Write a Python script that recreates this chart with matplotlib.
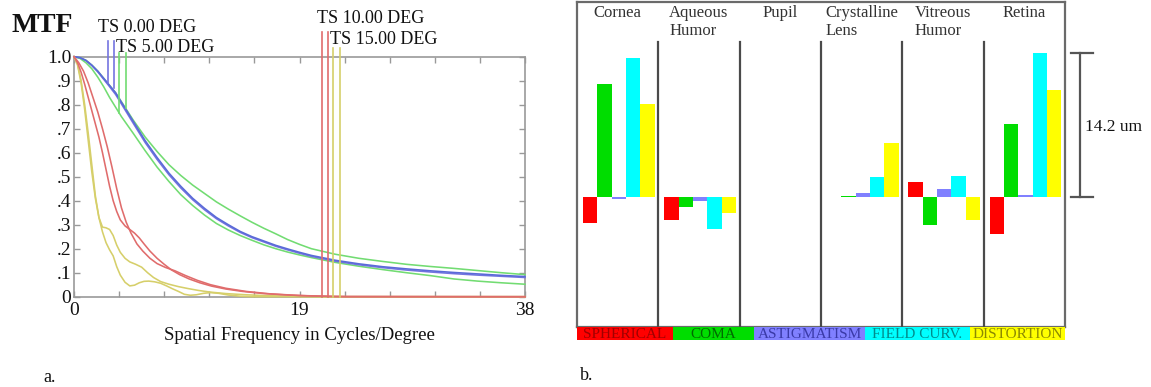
import matplotlib
matplotlib.use('Agg')
import matplotlib.pyplot as plt
import numpy as np

# ---------------- data: panel a (MTF curves) ----------------
freq_blue = [0, 0.5, 1, 1.5, 2, 2.5, 3, 3.5, 4, 5, 6, 7, 8, 9, 10, 11, 12, 13, 14, 15, 16, 17, 18, 19, 20,
             22, 24, 26, 28, 30, 32, 34, 36, 38]
mtf_blue_t = [1, 0.996, 0.985, 0.965, 0.94, 0.91, 0.88, 0.85, 0.81, 0.73, 0.65, 0.58, 0.515, 0.46, 0.41,
              0.368, 0.33, 0.30, 0.272, 0.25, 0.232, 0.214, 0.199, 0.185, 0.172, 0.152, 0.137, 0.125,
              0.116, 0.108, 0.101, 0.095, 0.089, 0.084]
mtf_blue_s = [1, 0.996, 0.984, 0.963, 0.937, 0.906, 0.875, 0.843, 0.803, 0.722, 0.642, 0.572, 0.508, 0.453,
              0.404, 0.362, 0.325, 0.295, 0.268, 0.246, 0.228, 0.21, 0.195, 0.181, 0.168, 0.148, 0.133,
              0.121, 0.111, 0.103, 0.096, 0.09, 0.085, 0.08]
mtf_green_t = [1, 0.996, 0.985, 0.965, 0.94, 0.91, 0.88, 0.85, 0.812, 0.735, 0.665, 0.605, 0.55, 0.505,
               0.465, 0.43, 0.395, 0.365, 0.337, 0.31, 0.285, 0.262, 0.238, 0.218, 0.2, 0.177, 0.16,
               0.147, 0.135, 0.126, 0.118, 0.109, 0.1, 0.092]
mtf_green_s = [1, 0.993, 0.975, 0.95, 0.915, 0.875, 0.83, 0.79, 0.75, 0.68, 0.608, 0.54, 0.48, 0.425, 0.38,
               0.34, 0.305, 0.278, 0.255, 0.235, 0.216, 0.2, 0.186, 0.174, 0.163, 0.143, 0.127, 0.113,
               0.1, 0.088, 0.074, 0.065, 0.058, 0.052]

freq_red_1 = [0, 0.3, 0.6, 0.9, 1.2, 1.5, 1.8, 2.1, 2.4, 2.7, 3.0, 3.3, 3.6, 3.9, 4.3, 4.7, 5.1, 5.5, 5.9,
              6.4, 7.0, 7.6, 8.2, 8.9, 9.7, 10.6, 11.6, 12.8, 14.2, 16, 18, 20, 23, 38]
mtf_red_1 = [1, 0.975, 0.935, 0.885, 0.83, 0.775, 0.72, 0.665, 0.6, 0.53, 0.46, 0.4, 0.355, 0.32, 0.295,
             0.28, 0.265, 0.245, 0.22, 0.19, 0.16, 0.135, 0.112, 0.092, 0.074, 0.058, 0.044, 0.032,
             0.022, 0.013, 0.007, 0.003, 0.0, 0.0]
freq_red_2 = [0, 0.4, 0.8, 1.2, 1.6, 2.0, 2.4, 2.8, 3.2, 3.6, 4.0, 4.4, 4.8, 5.3, 5.8, 6.4, 7.0, 7.7, 8.5,
              9.4, 10.4, 11.5, 12.8, 14.5, 16.5, 19, 22, 38]
mtf_red_2 = [1, 0.975, 0.94, 0.89, 0.83, 0.77, 0.7, 0.625, 0.54, 0.45, 0.37, 0.31, 0.265, 0.22, 0.19, 0.16,
             0.138, 0.122, 0.108, 0.088, 0.068, 0.05, 0.035, 0.022, 0.012, 0.005, 0.001, 0.0]

freq_yel_1 = [0, 0.3, 0.6, 0.9, 1.2, 1.5, 1.8, 2.1, 2.4, 2.7, 3.0, 3.3, 3.6, 3.9, 4.3, 4.7, 5.2, 5.7, 6.2,
              6.7, 7.3, 8.0, 8.8, 9.6, 10.5, 11.5, 12.8, 14.5, 16.5, 19, 21, 38]
mtf_yel_1 = [1, 0.97, 0.9, 0.8, 0.68, 0.55, 0.42, 0.33, 0.29, 0.287, 0.28, 0.255, 0.215, 0.185, 0.16, 0.145,
             0.135, 0.123, 0.1, 0.08, 0.063, 0.052, 0.042, 0.034, 0.026, 0.019, 0.013, 0.008, 0.004,
             0.001, 0.0, 0.0]
freq_yel_2 = [0, 0.3, 0.6, 0.9, 1.2, 1.5, 1.8, 2.1, 2.4, 2.7, 3.0, 3.3, 3.6, 3.9, 4.3, 4.7, 5.1, 5.5, 5.9,
              6.3, 6.8, 7.3, 7.8, 8.3, 8.8, 9.3, 9.8, 10.3, 10.9, 11.5, 12.2, 13, 14, 15, 38]
mtf_yel_2 = [1, 0.965, 0.89, 0.78, 0.65, 0.52, 0.41, 0.33, 0.27, 0.225, 0.195, 0.17, 0.125, 0.09, 0.06,
             0.045, 0.048, 0.058, 0.064, 0.065, 0.062, 0.056, 0.045, 0.033, 0.022, 0.01, 0.006, 0.008,
             0.014, 0.017, 0.014, 0.007, 0.002, 0.0, 0.0]

marker_freq = [2.85, 3.35, 3.82, 4.35, 20.92, 21.42, 21.84, 22.41]
marker_low = [0.89, 0.868, 0.764, 0.785, 0, 0, 0, 0]
marker_high = [1.065, 1.065, 1.014, 1.014, 1.104, 1.104, 1.035, 1.035]
field_labels = ['TS 0.00 DEG', 'TS 5.00 DEG', 'TS 10.00 DEG', 'TS 15.00 DEG']

x_tick_labels = ['0', '', '', '', '', '19', '', '', '', '', '38']
y_tick_labels = ['0', '.1', '.2', '.3', '.4', '.5', '.6', '.7', '.8', '.9', '1.0']

# ---------------- data: panel b (Seidel aberrations, um) ----------------
surfaces = ['Cornea', 'Aqueous\nHumor', 'Pupil', 'Crystalline\nLens', 'Vitreous\nHumor', 'Retina']
spherical = [-2.6, -2.27, 0, 0, 1.41, -3.68]
coma = [11.14, -1.02, 0, 0.1, -2.83, 7.2]
astigmatism = [-0.2, -0.39, 0, 0.36, 0.76, 0.18]
field_curv = [13.67, -3.16, 0, 1.94, 2.07, 14.2]
distortion = [9.17, -1.61, 0, 5.3, -2.27, 10.48]
aberr_names = ['SPHERICAL', 'COMA', 'ASTIGMATISM', 'FIELD CURV.', 'DISTORTION']
scale_value = 14.2

# ---------------- figure ----------------
W, H = 1151, 387
plt.rcParams['font.family'] = ['Liberation Serif', 'DejaVu Serif']
fig = plt.figure(figsize=(W / 100, H / 100), dpi=100)


def fx(x):
    return x / W


def fy(y):
    return 1 - y / H


# ---------------- panel a ----------------
ax = fig.add_axes([fx(74), fy(296.7), 451 / W, 240 / H])
c_blue = '#7474e0'
c_green = '#72dc72'
c_red = '#e06c6c'
c_yel = '#d6cf6a'
lw = 1.15
ax.plot(freq_blue, mtf_green_s, color=c_green, lw=lw, clip_on=False, zorder=3)
ax.plot(freq_blue, mtf_green_t, color=c_green, lw=lw, clip_on=False, zorder=3)
ax.plot(freq_blue, mtf_blue_s, color=c_blue, lw=lw, clip_on=False, zorder=3)
ax.plot(freq_blue, mtf_blue_t, color='#5a6ad8', lw=lw, clip_on=False, zorder=3)
ax.plot(freq_yel_1, mtf_yel_1, color=c_yel, lw=lw, clip_on=False, zorder=3)
ax.plot(freq_yel_2, mtf_yel_2, color=c_yel, lw=lw, clip_on=False, zorder=3)
ax.plot(freq_red_1, mtf_red_1, color=c_red, lw=lw, clip_on=False, zorder=3)
ax.plot(freq_red_2, mtf_red_2, color=c_red, lw=lw, clip_on=False, zorder=3)

marker_colors = [c_blue, c_blue, c_green, c_green, c_red, c_red, c_yel, c_yel]
for f, lo, hi, col in zip(marker_freq, marker_low, marker_high, marker_colors):
    ax.plot([f, f], [lo, hi], color=col, lw=1.2, clip_on=False, zorder=3)

ax.set_xlim(0, 38)
ax.set_ylim(0, 1)
ax.set_xticks(np.arange(11) * 3.8)
ax.set_xticklabels(x_tick_labels)
ax.set_yticks(np.arange(11) / 10)
ax.set_yticklabels(y_tick_labels)
ax.tick_params(direction='in', length=4, width=1, color='#999999', top=True, right=True,
               labelsize=14, pad=2, labelcolor='#111111')
ax.tick_params(axis='x', pad=4)
for s in ax.spines.values():
    s.set_color('#9a9a9a')
    s.set_linewidth(1.2)

fig.text(fx(12), fy(25), 'MTF', fontsize=20, fontweight='bold', ha='left', va='center', color='#111111')
label_pos = [(98.5, 28), (116, 47), (317, 18.5), (330, 40)]
for (px, py), t in zip(label_pos, field_labels):
    fig.text(fx(px), fy(py), t, fontsize=13, ha='left', va='center', color='#111111')
fig.text(fx(299.5), fy(335), 'Spatial Frequency in Cycles/Degree', fontsize=13.5, ha='center',
         va='center', color='#111111')
fig.text(fx(43), fy(378), 'a.', fontsize=13, ha='left', va='center', color='#111111')

# ---------------- panel b ----------------
box_l, box_r, box_t, box_b = 577, 1065, 2, 327
zero_y = 196.7
px_per_um = (zero_y - 52.7) / scale_value
ax2 = fig.add_axes([fx(box_l), fy(box_b), (box_r - box_l) / W, (box_b - box_t) / H])
ax2.set_xlim(0, len(surfaces))
ax2.set_ylim(-(box_b - zero_y) / px_per_um, (zero_y - box_t) / px_per_um)
ax2.set_xticks([])
ax2.set_yticks([])
for s in ax2.spines.values():
    s.set_color('#6a6a6a')
    s.set_linewidth(1.6)

series = [spherical, coma, astigmatism, field_curv, distortion]
bar_colors = ['#ff0000', '#00dd00', '#8080ff', '#00ffff', '#ffff00']
bw = 0.176
x0 = np.arange(len(surfaces))
for i, (vals, col) in enumerate(zip(series, bar_colors)):
    ax2.bar(x0 + 0.075 + i * bw, vals, width=bw, align='edge', color=col, linewidth=0, zorder=2)

div_top = (zero_y - 42) / px_per_um
ylo = ax2.get_ylim()[0]
for c in range(1, len(surfaces)):
    ax2.plot([c, c], [ylo, div_top], color='#4a4a4a', lw=1.6, zorder=3)

col_w = (box_r - box_l) / len(surfaces)
for c, name in enumerate(surfaces):
    fig.text(fx(box_l + (c + 0.5) * col_w), fy(5), name, fontsize=12, ha='center', va='top',
             multialignment='left', color='#333333', linespacing=1.15)

# scale bar
bar_x = (1080 - box_l) / col_w
cap_l = (1071 - box_l) / col_w
cap_r = (1093 - box_l) / col_w
ax2.plot([bar_x, bar_x], [0, scale_value], color='#555555', lw=1.6, clip_on=False)
ax2.plot([cap_l, cap_r], [0, 0], color='#555555', lw=1.6, clip_on=False)
ax2.plot([cap_l, cap_r], [scale_value, scale_value], color='#555555', lw=1.6, clip_on=False)
fig.text(fx(1085), fy(127), f'{scale_value} um', fontsize=12.5, ha='left', va='center', color='#111111')

# legend strip
ax3 = fig.add_axes([fx(box_l), fy(340), (box_r - box_l) / W, 13 / H])
ax3.set_xlim(0, box_r - box_l)
ax3.set_ylim(0, 1)
ax3.axis('off')
edges = [0, 96, 177, 288, 393, 488]
text_colors = ['#a00000', '#006a00', '#3a3aa8', '#008c8c', '#8c8a00']
for i, name in enumerate(aberr_names):
    ax3.axvspan(edges[i], edges[i + 1], color=bar_colors[i], lw=0)
    ax3.text((edges[i] + edges[i + 1]) / 2, 0.45, name, ha='center', va='center', fontsize=11,
             color=text_colors[i])

fig.text(fx(580), fy(376), 'b.', fontsize=13, ha='left', va='center', color='#111111')

fig.savefig('out.png', dpi=100)
